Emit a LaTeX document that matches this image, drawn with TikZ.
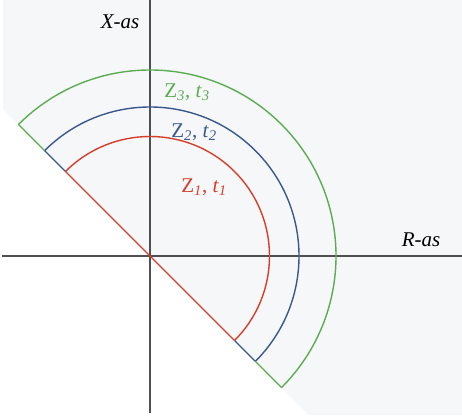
\documentclass[tikz,border=0pt]{standalone}
\usepackage{fontspec}
\setmainfont{Liberation Serif}
\usetikzlibrary{calc}

\tikzset{
  axis/.style={draw=axisgrey, line width=1.9pt},
  ring/.style={line width=1.4pt},
  lbl/.style={inner sep=0pt, font=\fontsize{21}{24}\selectfont}
}

\begin{document}
\begin{tikzpicture}[x=1pt, y=1pt]
% Define the custom colors
  \definecolor{panegrey}{RGB}{246,247,249}
  \definecolor{axisgrey}{RGB}{80,80,80}
  \definecolor{zred}{RGB}{214,62,44}
  \definecolor{zblue}{RGB}{58,88,140}
  \definecolor{zgreen}{RGB}{92,172,82}

  \useasboundingbox (-150,-159) rectangle (312,256);
  % shaded half plane above the diagonal
  \fill[panegrey] (-147,256) -- (312,256) -- (312,-159) -- (159,-159) -- (-147,147) -- cycle;

  % axes
  \draw[axis] (-148,0) -- (312,0);
  \draw[axis] (0,256) -- (0,-157);
  \node[lbl] (xas) at (-30,234) {\textit{X-as}};
  \node[lbl] (ras) at (271,16) {\textit{R-as}};

  % the three half rings
  \draw[ring, zgreen] (135:186pt) arc[start angle=135, end angle=-45, radius=186pt];
  \draw[ring, zblue] (135:149pt) arc[start angle=135, end angle=-45, radius=149pt];
  \draw[ring, zred] (135:119.5pt) arc[start angle=135, end angle=-45, radius=119.5pt];

  % diagonal, split by colour
  \draw[ring, zgreen] (135:186pt) -- (135:149pt);
  \draw[ring, zblue] (135:149pt) -- (135:119.5pt);
  \draw[ring, zred] (135:119.5pt) -- (-45:119.5pt);
  \draw[ring, zblue] (-45:119.5pt) -- (-45:149pt);
  \draw[ring, zgreen] (-45:149pt) -- (-45:186pt);

  \node[lbl, text=zgreen] (zthree) at (37,164) {Z\textsubscript{\itshape 3}, \textit{t}\textsubscript{\itshape 3}};
  \node[lbl, text=zblue] (ztwo) at (44,124) {Z\textsubscript{\itshape 2}, \textit{t}\textsubscript{\itshape 2}};
  \node[lbl, text=zred] (zone) at (54,69) {Z\textsubscript{\itshape 1}, \textit{t}\textsubscript{\itshape 1}};
\end{tikzpicture}
\end{document}
